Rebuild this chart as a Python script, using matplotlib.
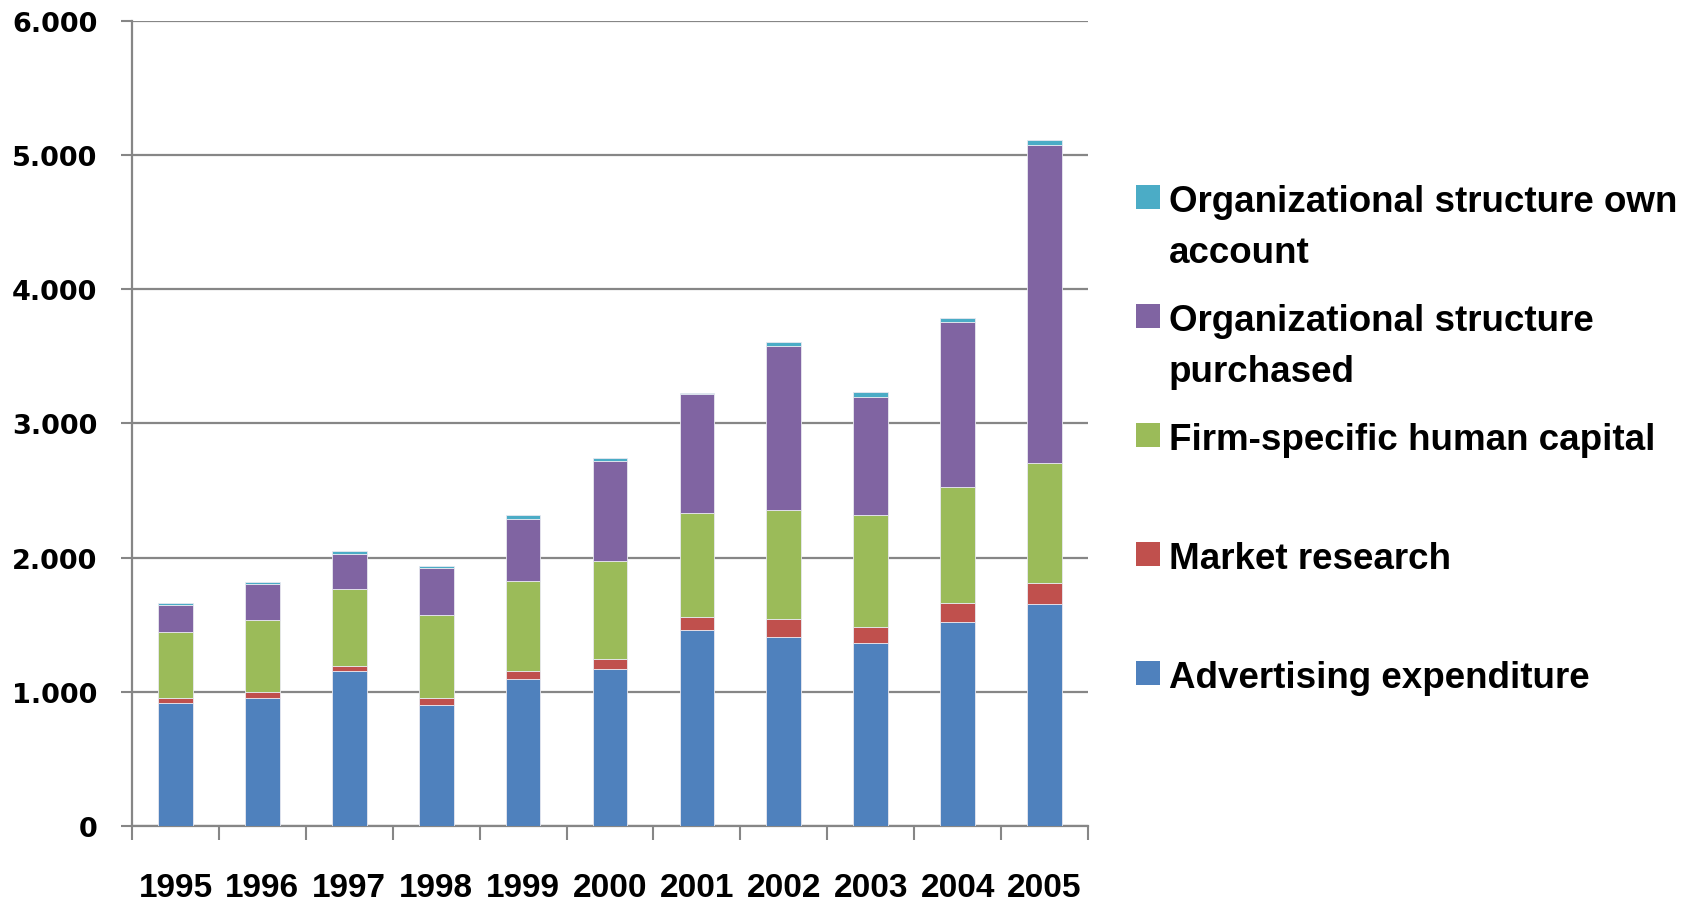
import numpy as np
import matplotlib.pyplot as plt
from matplotlib.patches import Rectangle

# data
years = ["1995", "1996", "1997", "1998", "1999", "2000", "2001", "2002", "2003", "2004", "2005"]
advertising = [918, 955, 1157, 900, 1097, 1167, 1463, 1408, 1363, 1522, 1655]
market_research = [32, 45, 32, 50, 57, 74, 94, 132, 120, 140, 155]
human_capital = [498, 532, 575, 625, 674, 734, 776, 813, 833, 863, 891]
org_purchased = [199, 269, 266, 345, 460, 746, 889, 1222, 883, 1229, 2371]
org_own = [17, 15, 17, 20, 28, 20, 3, 28, 35, 33, 40]

y_ticks = [0, 1000, 2000, 3000, 4000, 5000, 6000]
y_tick_labels = ["0", "1.000", "2.000", "3.000", "4.000", "5.000", "6.000"]

series = [
    ("Advertising expenditure", advertising, "#4F81BD"),
    ("Market research", market_research, "#C0504D"),
    ("Firm-specific human capital", human_capital, "#9BBB59"),
    ("Organizational structure\npurchased", org_purchased, "#8064A2"),
    ("Organizational structure own\naccount", org_own, "#4BACC6"),
]

grey = "#868686"

fig = plt.figure(figsize=(16.99, 9.03), dpi=100)
ax = fig.add_axes([0.0777, 0.0842, 0.5627, 0.8918])

x = np.arange(len(years))
bottom = np.zeros(len(years))
for name, vals, col in series:
    ax.bar(x, vals, width=0.40, bottom=bottom, color=col,
           edgecolor="#e8e8f0", linewidth=0.6, zorder=3)
    bottom += np.array(vals)

ax.set_xlim(-0.5, len(years) - 0.5)
ax.set_ylim(0, 6000)

# y axis
ax.set_yticks(y_ticks)
ax.set_yticklabels(y_tick_labels, fontfamily="DejaVu Sans", fontweight="bold", fontsize=19.5)
ax.tick_params(axis="y", length=8, width=1.5, color=grey, pad=17)
ax.yaxis.grid(True, color=grey, linewidth=1.6, zorder=0)

# x axis: ticks between categories, labels at centres
ax.set_xticks(np.arange(-0.5, len(years), 1.0))
ax.set_xticklabels([])
ax.tick_params(axis="x", which="major", length=10, width=1.5, color=grey)
ax.set_xticks(x, minor=True)
ax.set_xticklabels(years, minor=True, fontfamily="Liberation Sans",
                   fontweight="bold", fontsize=24)
ax.tick_params(axis="x", which="minor", length=0, pad=33)

for s in ["top", "right"]:
    ax.spines[s].set_visible(False)
for s in ["left", "bottom"]:
    ax.spines[s].set_color(grey)
    ax.spines[s].set_linewidth(1.6)

# legend drawn by hand, evenly spaced like the original
W, H = 1699.0, 903.0
legend_top = [186, 305, 424, 543, 662]
for (name, vals, col), yt in zip(series[::-1], legend_top):
    fig.patches.append(Rectangle((1136 / W, 1 - (yt + 24) / H), 24 / W, 24 / H,
                                 transform=fig.transFigure, facecolor=col,
                                 edgecolor="none"))
    for i, line in enumerate(name.split("\n")):
        fig.text(1169 / W, 1 - (yt + 26 + i * 51) / H, line, ha="left", va="baseline",
                 fontfamily="Liberation Sans", fontweight="bold", fontsize=26.5,
                 transform=fig.transFigure)

fig.savefig("out.png", dpi=100)
